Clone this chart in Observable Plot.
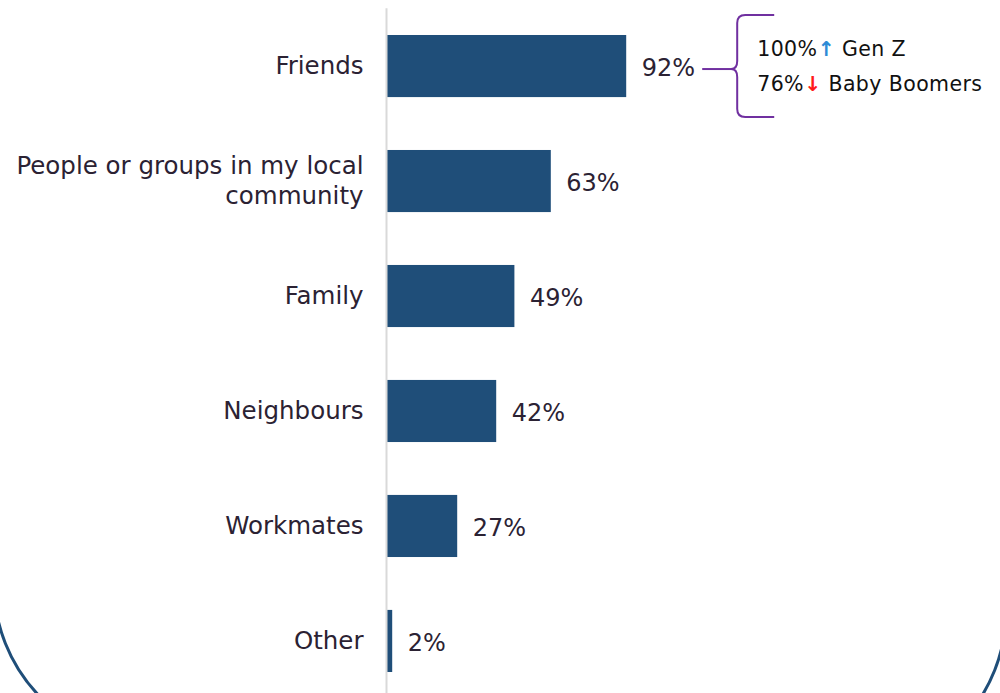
<!DOCTYPE html>
<html>
<head>
<meta charset="utf-8">
<script src="https://cdn.jsdelivr.net/npm/d3@7"></script>
<script src="https://cdn.jsdelivr.net/npm/@observablehq/plot@0.6"></script>
<style>
  html, body { margin: 0; padding: 0; background: #fff; }
  #wrap { position: relative; width: 1000px; height: 693px; overflow: hidden; }
  #deco { position: absolute; left: 0; top: 0; pointer-events: none; }
  #chart { position: absolute; left: 0; top: 0; }
</style>
</head>
<body>
<div id="wrap">
  <div id="chart"></div>
  <svg id="deco" width="1000" height="693">
    <path d="M -6 584 A 161 161 0 0 0 155 745" fill="none" stroke="#1f4e79" stroke-width="3"/>
    <path d="M 845 772 A 161 161 0 0 0 1006 611" fill="none" stroke="#1f4e79" stroke-width="3"/>
  </svg>
</div>
<script>
// Data
const categories = ["Friends", "People or groups in my local\ncommunity", "Family", "Neighbours", "Workmates", "Other"];
const values = [92, 63, 49, 42, 27, 2];
const subGroups = ["Gen Z", "Baby Boomers"];
const subValues = [100, 76];
const subDirections = ["up", "down"];

const data = categories.map((c, i) => ({category: c, value: values[i]}));

const textColor = "#2b2233";
const barColor = "#1f4e79";
const font = "DejaVu Sans";

// Custom annotation mark anchored to the first bar's scaled end
function braceAnnotation(index, scales, vals, dims, context) {
  const g = d3.create("svg:g");
  const x0 = scales.x(values[0]);
  const yc = scales.y(categories[0]) + scales.y.bandwidth() / 2;
  const ym = yc + 3;
  const purple = "#7030a0";
  const lx1 = x0 + 76;
  const bx = x0 + 111;
  const top = yc - 51, bot = yc + 51;
  // connector line
  g.append("path")
    .attr("d", `M${lx1},${ym} L${bx - 4},${ym}`)
    .attr("stroke", purple).attr("stroke-width", 2).attr("fill", "none");
  // brace
  const r = 8;
  g.append("path")
    .attr("d",
      `M${bx + 37},${top} L${bx + r},${top} Q${bx},${top} ${bx},${top + r} ` +
      `L${bx},${ym - r} Q${bx},${ym} ${bx - 6},${ym} Q${bx},${ym} ${bx},${ym + r} ` +
      `L${bx},${bot - r} Q${bx},${bot} ${bx + r},${bot} L${bx + 37},${bot}`)
    .attr("stroke", purple).attr("stroke-width", 2).attr("fill", "none");
  const tx = bx + 20;
  subGroups.forEach((grp, i) => {
    const t = g.append("text")
      .attr("x", tx).attr("y", yc - 17 + i * 35)
      .attr("dy", "0.35em")
      .attr("text-anchor", "start")
      .attr("font-family", font).attr("font-size", 20.5)
      .attr("letter-spacing", "0.4px")
      .attr("fill", "#111");
    t.append("tspan").text(subValues[i] + "%");
    t.append("tspan")
      .attr("fill", subDirections[i] === "up" ? "#2e8bd6" : "#ff1a1a")
      .attr("font-weight", "bold")
      .text(subDirections[i] === "up" ? "↑" : "↓");
    t.append("tspan").text(" " + grp);
  });
  return g.node();
}

const plot = Plot.plot({
  width: 1000,
  height: 693,
  marginLeft: 387,
  marginRight: 353,
  marginTop: 14.3,
  marginBottom: 0.3,
  style: {fontFamily: font, background: "transparent"},
  x: {domain: [0, 100], axis: null},
  y: {domain: categories, paddingInner: 0.46, paddingOuter: 0.18, round: false, label: null},
  marks: [
    Plot.barX(data, {y: "category", x: "value", fill: barColor}),
    Plot.ruleX([0], {stroke: "#d9d9d9", strokeWidth: 2, dx: -1, insetTop: -6, insetBottom: -1}),
    Plot.axisY({tickSize: 0, tickPadding: 24, fontSize: 24.5, fill: textColor, label: null, lineHeight: 1.23, dy: -2}),
    Plot.text(data, {y: "category", x: "value", text: d => d.value + "%", dx: 15, dy: 2, textAnchor: "start", fontSize: 24, fill: textColor}),
    braceAnnotation
  ]
});
document.getElementById("chart").appendChild(plot);
</script>
</body>
</html>
